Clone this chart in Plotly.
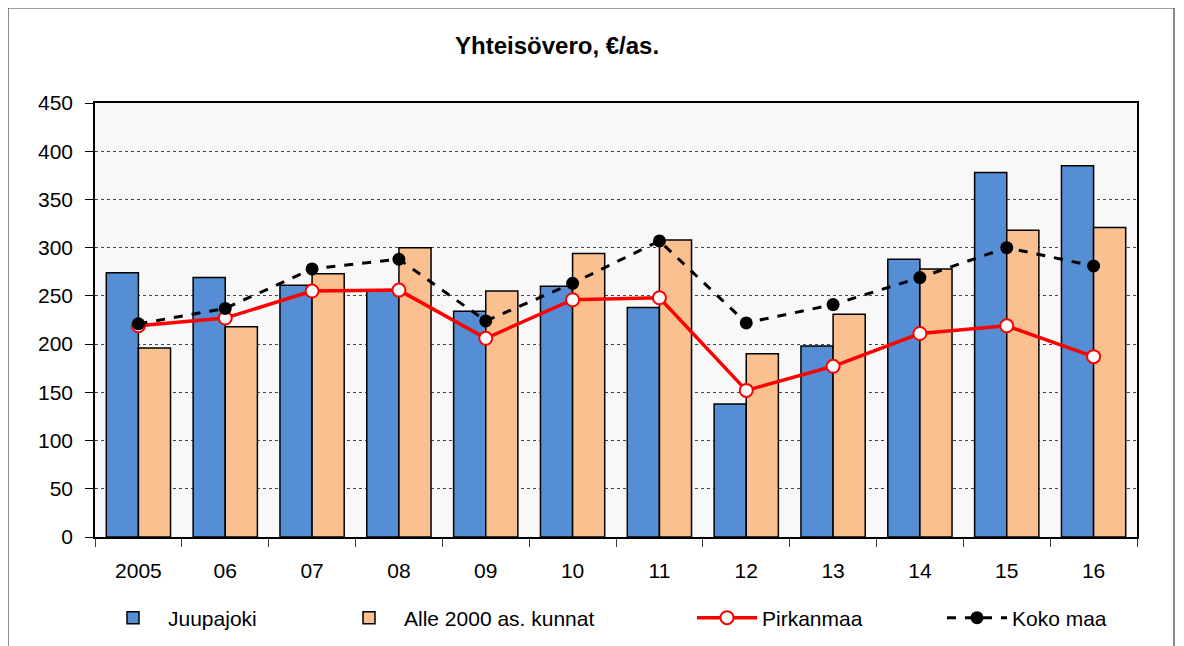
import plotly.graph_objects as go

years = ["2005", "06", "07", "08", "09", "10", "11", "12", "13", "14", "15", "16"]
juupajoki = [274, 269, 261, 256, 234, 260, 238, 138, 198, 288, 378, 385]
alle_2000 = [196, 218, 273, 300, 255, 294, 308, 190, 231, 278, 318, 321]
pirkanmaa = [219, 227, 255, 256, 206, 246, 248, 152, 177, 211, 219, 187]
koko_maa = [221, 237, 278, 288, 224, 263, 307, 222, 241, 269, 300, 281]
y_ticks = [0, 50, 100, 150, 200, 250, 300, 350, 400, 450]

FONT = "Liberation Sans, Arial, sans-serif"
SHIFT = 8  # page offset seen in the screenshot

fig = go.Figure()
fig.add_trace(go.Bar(x=years, y=juupajoki, name="Juupajoki", legend="legend", showlegend=True,
                     marker={"color": "#558ED5", "line": {"color": "black", "width": 1.5}}))
fig.add_trace(go.Bar(x=years, y=alle_2000, name="Alle 2000 as. kunnat", legend="legend2",
                     marker={"color": "#FAC090", "line": {"color": "black", "width": 1.5}}))
fig.add_trace(go.Scatter(x=years, y=pirkanmaa, name="Pirkanmaa", mode="lines+markers", legend="legend3",
                         line={"color": "#FF0000", "width": 3.5},
                         marker={"size": 13, "color": "white", "line": {"color": "#FF0000", "width": 2}}))
fig.add_trace(go.Scatter(x=years, y=koko_maa, name="Koko maa", mode="lines+markers", legend="legend4",
                         line={"color": "black", "width": 3, "dash": "dash"},
                         marker={"size": 13, "color": "black"}))

# target pixel positions in the screenshot
plot_l, plot_r, plot_t, plot_b = 95, 1137, 103, 537
pw, ph = plot_r - plot_l, plot_b - plot_t


def px_x(px):
    return (px - plot_l) / pw


def px_y(py):
    return (plot_b - py) / ph


legend_common = {"orientation": "h", "yanchor": "middle", "xanchor": "left", "y": px_y(618),
                 "font": {"size": 21, "color": "black", "family": FONT}, "bgcolor": "rgba(0,0,0,0)",
                 "itemwidth": 60}
offset = 70

fig.update_layout(
    width=1184, height=646,
    margin={"l": plot_l - SHIFT, "r": 1184 - plot_r + SHIFT, "t": plot_t - SHIFT,
            "b": 646 - plot_b + SHIFT, "autoexpand": False},
    paper_bgcolor="white", plot_bgcolor="#F8F8F8",
    font={"family": FONT, "size": 21, "color": "black"},
    barmode="group", bargap=0.26, bargroupgap=0,
    showlegend=True,
    legend={**legend_common, "x": px_x(168 - offset)},
    legend2={**legend_common, "x": px_x(404 - offset)},
    legend3={**legend_common, "x": px_x(762 - offset)},
    legend4={**legend_common, "x": px_x(1012 - offset)},
    annotations=[{"text": "<b>Yhteisövero, €/as.</b>", "xref": "paper", "yref": "paper",
                  "x": px_x(557), "y": px_y(45), "xanchor": "center", "yanchor": "middle",
                  "showarrow": False, "font": {"size": 24, "family": FONT, "color": "black"}}],
    shapes=[{"type": "rect", "xref": "paper", "yref": "paper",
             "x0": px_x(8), "x1": px_x(1174), "y0": px_y(660), "y1": px_y(8),
             "line": {"color": "#404040", "width": 1.2}, "layer": "below"}],
)
fig.update_xaxes(type="category", range=[-0.5, len(years) - 0.5], showline=True, linecolor="black",
                 linewidth=1.5, mirror=True, ticks="outside", tickson="boundaries", ticklen=8,
                 tickcolor="#404040", ticklabelstandoff=14, showgrid=False)
fig.update_yaxes(range=[0, 450], tickvals=y_ticks, showline=True, linecolor="black", linewidth=1.5,
                 mirror=True, ticks="outside", ticklen=8, tickcolor="black", ticklabelstandoff=8,
                 showgrid=True, gridcolor="#444444", griddash="dot", gridwidth=1, zeroline=False)

fig.write_html("out.html")
